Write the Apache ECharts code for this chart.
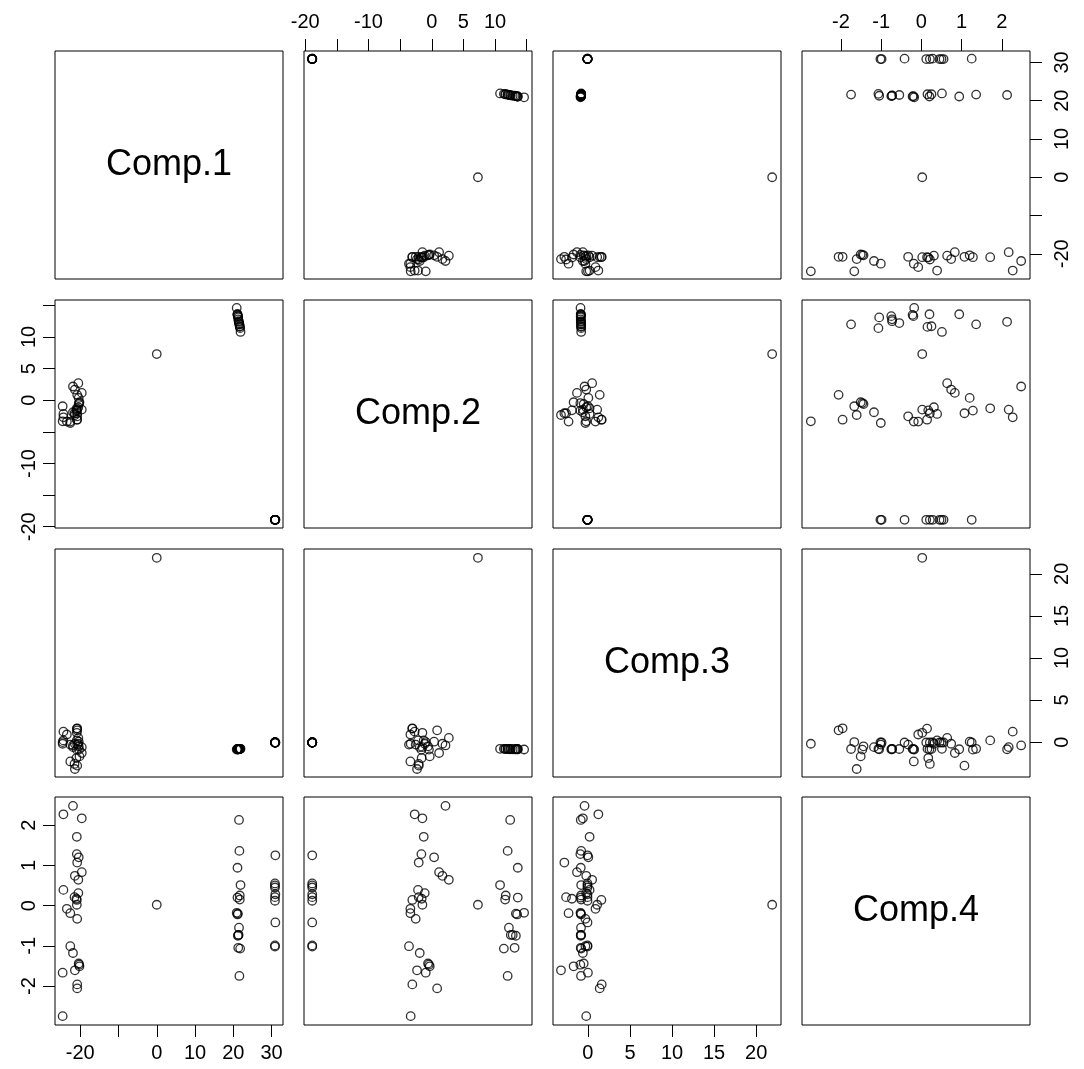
<!DOCTYPE html>
<html>
<head>
<meta charset="utf-8">
<script src="https://cdn.jsdelivr.net/npm/echarts@6/dist/echarts.min.js"></script>
<style>
  html, body { margin: 0; padding: 0; background: #fff; }
  #chart { width: 1084px; height: 1069px; }
</style>
</head>
<body>
<div id="chart"></div>
<script>
// Principal component scores, one entry per observation
const labels = ['Comp.1', 'Comp.2', 'Comp.3', 'Comp.4'];

const comp1 = [
  -21.9, -24.4, -19.6, -20.9, -20.9, -20.4, -20.8, -19.6, -21.4, -20.5,
  -24.4, -20.5, -21.5, -20.9, -20.9, -23.5, -22.6, -20.8, -22.6, -21.9,
  -20.4, -20.2, -21.4, -24.6, -20.8, -20.8, -24.6, -21.0, -20.3,
  0.0,
  21.5, 21.6, 21.1, 21.9, 21.7, 21.7, 21.1, 21.2, 21.1, 20.9,
  21.5, 21.4, 21.3, 21.2, 21.8, 21.3, 21.6,
  31.0, 30.9, 30.9, 30.9, 31.0, 30.9, 30.9, 31.0, 30.9, 30.9
];
const comp2 = [
  2.17, -2.70, -1.48, -1.27, -1.64, 0.37, -2.06, 1.16, 1.69, 2.70,
  -2.17, -1.11, -2.06, -3.07, -1.48, -3.38, -3.38, -2.54, -3.60, -1.90,
  -0.59, -0.32, -2.33, -0.95, -3.07, 0.85, -3.33, -1.60, -0.45,
  7.3,
  12.4, 12.0, 13.6, 10.8, 11.7, 11.6, 13.6, 13.3, 13.5, 14.6,
  12.2, 12.5, 12.8, 13.3, 11.4, 13.1, 12.0,
  -18.9, -18.9, -18.9, -18.9, -18.9, -18.9, -18.9, -18.9, -18.9, -18.9
];
const comp3 = [
  -0.4, 1.24, -0.6, 0.2, -0.9, 0.05, -2.8, -1.3, -0.2, 0.5,
  0.2, -0.2, -2.6, 1.6, 1.1, 0.9, -2.3, -0.3, -0.3, -0.6,
  -0.5, -1.7, -3.2, 0.0, 1.64, 1.4, -0.2, -1.9, -0.9,
  21.9,
  -0.85, -0.80, -0.85, -0.80, -0.82, -0.80, -0.85, -0.85, -0.82, -0.88,
  -0.82, -0.80, -0.85, -0.85, -0.80, -0.85, -0.82,
  -0.05, -0.05, -0.05, -0.05, -0.05, -0.05, -0.05, -0.05, -0.05, -0.05
];
const comp4 = [
  2.48, 2.27, 2.17, 1.71, 1.28, 1.20, 1.07, 0.83, 0.74, 0.64,
  0.39, 0.31, 0.21, 0.14, 0.02, -0.08, -0.19, -0.33, -1.01, -1.18,
  -1.44, -1.51, -1.61, -1.67, -1.96, -2.06, -2.75, 0.17, -1.47,
  0.02,
  2.13, 1.36, 0.94, 0.51, 0.25, 0.15, 0.20, -0.20, -0.22, -0.18,
  -0.55, -0.73, -0.73, -0.75, -1.07, -1.05, -1.75,
  1.25, 0.55, 0.50, 0.45, 0.28, 0.21, 0.12, -0.42, -0.99, -1.02
];

// Tick positions and the labels printed at them
const tickValues1 = [-20, -10, 0, 10, 20, 30];
const tickValues2 = [-20, -15, -10, -5, 0, 5, 10, 15];
const tickValues3 = [0, 5, 10, 15, 20];
const tickValues4 = [-2, -1, 0, 1, 2];
const tickLabels1 = [-20, 0, 10, 20, 30];
const tickLabels2 = [-20, -10, 0, 5, 10];
const tickLabels3 = [0, 5, 10, 15, 20];
const tickLabels4 = [-2, -1, 0, 1, 2];

const comps = [comp1, comp2, comp3, comp4];
const ticks = [tickValues1, tickValues2, tickValues3, tickValues4];
const tickLabels = [tickLabels1, tickLabels2, tickLabels3, tickLabels4];

// Layout of the 4 x 4 panel matrix
const colLeft = [55, 304, 553, 802];
const rowTop = [51, 300, 549, 797];
const size = 228;
const limits = [[-26.6, 33.0], [-20.2, 15.85], [-4.15, 22.95], [-2.97, 2.70]];
const font = 'Liberation Sans, Arial, sans-serif';
const tickFont = 20;

const grids = [], xAxes = [], yAxes = [], series = [], graphics = [];

for (let i = 0; i < 4; i++) {
  for (let j = 0; j < 4; j++) {
    const g = i * 4 + j;
    grids.push({
      left: colLeft[j], top: rowTop[i], width: size, height: size,
      show: true, borderColor: '#000', borderWidth: 1, backgroundColor: 'transparent'
    });

    // axes alternate around the matrix: top/bottom by column, left/right by row
    const topAxis = (i === 0 && j % 2 === 1);
    const bottomAxis = (i === 3 && j % 2 === 0);
    const showX = topAxis || bottomAxis;
    xAxes.push({
      gridIndex: g, type: 'value',
      min: limits[j][0], max: limits[j][1],
      position: topAxis ? 'top' : 'bottom',
      axisLine: { show: false, onZero: false },
      splitLine: { show: false },
      axisTick: {
        show: showX, length: 12, inside: false,
        customValues: ticks[j],
        lineStyle: { color: '#000', width: 1 }
      },
      axisLabel: {
        show: showX, customValues: tickLabels[j],
        margin: topAxis ? 19 : 18,
        color: '#000', fontSize: tickFont, fontFamily: font
      }
    });

    const leftAxis = (j === 0 && i % 2 === 1);
    const rightAxis = (j === 3 && i % 2 === 0);
    const showY = leftAxis || rightAxis;
    yAxes.push({
      gridIndex: g, type: 'value',
      min: limits[i][0], max: limits[i][1],
      position: rightAxis ? 'right' : 'left',
      axisLine: { show: false, onZero: false },
      splitLine: { show: false },
      axisTick: {
        show: showY, length: 12, inside: false,
        customValues: ticks[i],
        lineStyle: { color: '#000', width: 1 }
      },
      axisLabel: {
        show: showY, customValues: tickLabels[i], rotate: 90,
        margin: rightAxis ? 22 : 16,
        color: '#000', fontSize: tickFont, fontFamily: font
      }
    });

    if (i === j) {
      graphics.push({
        type: 'text',
        x: colLeft[j] + size / 2,
        y: rowTop[i] + size / 2,
        style: {
          text: labels[i],
          fill: '#000',
          font: '36px ' + font,
          textAlign: 'center', textVerticalAlign: 'middle',
          align: 'center', verticalAlign: 'middle'
        }
      });
    } else {
      const xs = comps[j], ys = comps[i];
      series.push({
        type: 'scatter',
        xAxisIndex: g, yAxisIndex: g,
        symbol: 'circle', symbolSize: 8.5,
        itemStyle: { color: 'rgba(0,0,0,0)', borderColor: '#000', borderWidth: 1.3 },
        data: xs.map((v, k) => [v, ys[k]]),
        silent: true
      });
    }
  }
}

const chart = echarts.init(document.getElementById('chart'), null, { renderer: 'canvas' });
chart.setOption({
  backgroundColor: '#fff',
  animation: false,
  grid: grids,
  xAxis: xAxes,
  yAxis: yAxes,
  series: series,
  graphic: graphics
});
</script>
</body>
</html>
